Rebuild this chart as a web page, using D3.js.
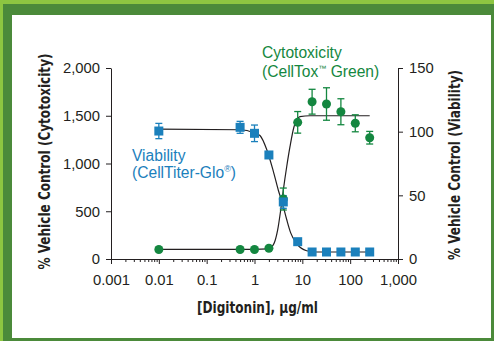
<!DOCTYPE html>
<html>
<head>
<meta charset="utf-8">
<script src="https://cdn.jsdelivr.net/npm/d3@7"></script>
<style>
  body { margin: 0; }
  svg { display: block; }
</style>
</head>
<body>
<svg id="chart" width="494" height="341"></svg>
<script>
// doses (µg/ml)
const doses = [0.01, 0.5, 1, 2, 4, 8, 16, 32, 64, 128, 256]
// viability, % vehicle control (right axis)
const viability = [100.5, 103.4, 98.7, 81.7, 44.8, 13.6, 5.5, 5.5, 5.5, 5.5, 5.5]
const viabilityErr = [6, 4.7, 6.5, 0, 5, 0, 0, 0, 0, 0, 0]
// cytotoxicity, % vehicle control (left axis)
const cytotox = [100, 100, 100, 112, 628, 1431, 1647, 1623, 1542, 1421, 1270]
const cytotoxErr = [0, 0, 0, 0, 115, 113, 130, 170, 136, 89, 66]

// fitted curves, points
const viabilityFit = [[0.01, 102], [0.5, 101.5], [1, 99], [1.3, 97], [1.8, 86], [2.47, 69], [3.15, 54],
  [3.88, 43], [4.71, 31], [5.71, 20.5], [7.62, 12], [12.3, 6.5], [20, 5.5], [256, 5.5]]
const cytotoxFit = [[0.01, 100], [1, 100], [1.9, 105], [2.47, 147], [3.05, 304], [3.53, 513], [4.0, 722],
  [4.71, 966], [5.52, 1176], [6.7, 1385], [8.93, 1490], [14.5, 1500], [256, 1500]]

const xTicks = [0.001, 0.01, 0.1, 1, 10, 100, 1000]
const xTickLabels = ["0.001", "0.01", "0.1", "1", "10", "100", "1,000"]
const leftTicks = [0, 500, 1000, 1500, 2000]
const rightTicks = [0, 50, 100, 150]

const ink = "#231f20"
const blue = "#1b80bc"
const green = "#148740"
const tickFont = "'Liberation Sans', Arial, sans-serif"
const boldFont = "'Liberation Sans Narrow', 'Arial Narrow', 'DejaVu Sans Condensed', sans-serif"

const svg = d3.select("#chart")

// frame
svg.append("rect").attr("width", 494).attr("height", 341).attr("fill", "#8dc641")
svg.append("rect").attr("x", 3).attr("y", 4).attr("width", 491).attr("height", 337).attr("fill", "#4b8a3a")
svg.append("rect").attr("x", 12).attr("y", 15).attr("width", 479).attr("height", 323).attr("fill", "#fff")

const x = d3.scaleLog().domain([0.001, 1000]).range([111, 398])
const yL = d3.scaleLinear().domain([0, 2000]).range([259, 68])
const yR = d3.scaleLinear().domain([0, 150]).range([259, 68])

const minorTicks = []
for (let e = -3; e < 3; e++) {
  for (let m = 2; m <= 9; m++) minorTicks.push(m * Math.pow(10, e))
}

const styleAxis = g => {
  g.attr("font-family", tickFont).attr("font-size", 14.8)
  g.selectAll("path, line").attr("stroke", ink).attr("stroke-width", 1)
  g.selectAll("text").attr("fill", ink)
}

svg.append("g")
  .attr("transform", "translate(0,259)")
  .call(d3.axisBottom(x).tickValues(minorTicks).tickSize(3).tickSizeOuter(0).tickFormat(""))
  .call(styleAxis)

svg.append("g")
  .attr("transform", "translate(0,259)")
  .call(d3.axisBottom(x).tickValues(xTicks).tickSize(5).tickSizeOuter(0).tickPadding(10)
    .tickFormat((d, i) => xTickLabels[i]))
  .call(styleAxis)

svg.append("g")
  .attr("transform", "translate(111,0)")
  .call(d3.axisLeft(yL).tickValues(leftTicks).tickSize(5).tickSizeOuter(0).tickPadding(6)
    .tickFormat(d3.format(",")))
  .call(styleAxis)

svg.append("g")
  .attr("transform", "translate(398,0)")
  .call(d3.axisRight(yR).tickValues(rightTicks).tickSize(5).tickSizeOuter(0).tickPadding(6))
  .call(styleAxis)

// axis titles (condensed bold, squeezed to the reference width)
const boldTitle = (t, len) => t
  .attr("font-family", boldFont).attr("font-weight", "bold").attr("font-size", 15)
  .attr("fill", ink)
  .attr("textLength", len).attr("lengthAdjust", "spacingAndGlyphs")

svg.append("text")
  .attr("transform", "translate(50,161.5) rotate(-90)")
  .attr("text-anchor", "middle")
  .call(boldTitle, 216)
  .text("% Vehicle Control (Cytotoxicity)")

svg.append("text")
  .attr("transform", "translate(460,165) rotate(-90)")
  .attr("text-anchor", "middle")
  .call(boldTitle, 190)
  .text("% Vehicle Control (Viability)")

svg.append("text")
  .attr("x", 257.5).attr("y", 312.5)
  .attr("text-anchor", "middle")
  .call(boldTitle, 121)
  .text("[Digitonin], µg/ml")

// fitted curves
const lineV = d3.line().x(d => x(d[0])).y(d => yR(d[1])).curve(d3.curveMonotoneX)
const lineC = d3.line().x(d => x(d[0])).y(d => yL(d[1])).curve(d3.curveMonotoneX)

svg.append("path").datum(cytotoxFit).attr("d", lineC)
  .attr("fill", "none").attr("stroke", ink).attr("stroke-width", 1.2)
svg.append("path").datum(viabilityFit).attr("d", lineV)
  .attr("fill", "none").attr("stroke", ink).attr("stroke-width", 1.2)

// error bars
function errorBars(vals, errs, y, color) {
  const g = svg.append("g").attr("stroke", color).attr("stroke-width", 1.3)
  doses.forEach((d, i) => {
    if (!errs[i]) return
    const cx = x(d)
    const y1 = y(vals[i] + errs[i])
    const y2 = y(vals[i] - errs[i])
    g.append("line").attr("x1", cx).attr("x2", cx).attr("y1", y1).attr("y2", y2)
    g.append("line").attr("x1", cx - 3.5).attr("x2", cx + 3.5).attr("y1", y1).attr("y2", y1)
    g.append("line").attr("x1", cx - 3.5).attr("x2", cx + 3.5).attr("y1", y2).attr("y2", y2)
  })
}

errorBars(cytotox, cytotoxErr, yL, green)
errorBars(viability, viabilityErr, yR, blue)

svg.append("g").selectAll("circle")
  .data(doses)
  .join("circle")
  .attr("cx", d => x(d))
  .attr("cy", (d, i) => yL(cytotox[i]))
  .attr("r", 4.5)
  .attr("fill", green)

svg.append("g").selectAll("rect")
  .data(doses)
  .join("rect")
  .attr("x", d => x(d) - 4.5)
  .attr("y", (d, i) => yR(viability[i]) - 4.5)
  .attr("width", 9).attr("height", 9)
  .attr("fill", blue)

// annotations
const cyto = svg.append("text")
  .attr("font-family", tickFont).attr("font-size", 15.6).attr("fill", green)
cyto.append("tspan").attr("x", 262).attr("y", 58).text("Cytotoxicity")
const c2 = cyto.append("tspan").attr("x", 262).attr("y", 76.5)
c2.append("tspan").text("(CellTox")
c2.append("tspan").attr("font-size", 8).attr("dy", -6).text("™")
c2.append("tspan").attr("dy", 6).text(" Green)")

const via = svg.append("text")
  .attr("font-family", tickFont).attr("font-size", 15.6).attr("fill", blue)
via.append("tspan").attr("x", 132).attr("y", 160.5).text("Viability")
const l2 = via.append("tspan").attr("x", 132).attr("y", 178)
l2.append("tspan").text("(CellTiter-Glo")
l2.append("tspan").attr("font-size", 9).attr("dy", -6).text("®")
l2.append("tspan").attr("dy", 6).text(")")
</script>
</body>
</html>
